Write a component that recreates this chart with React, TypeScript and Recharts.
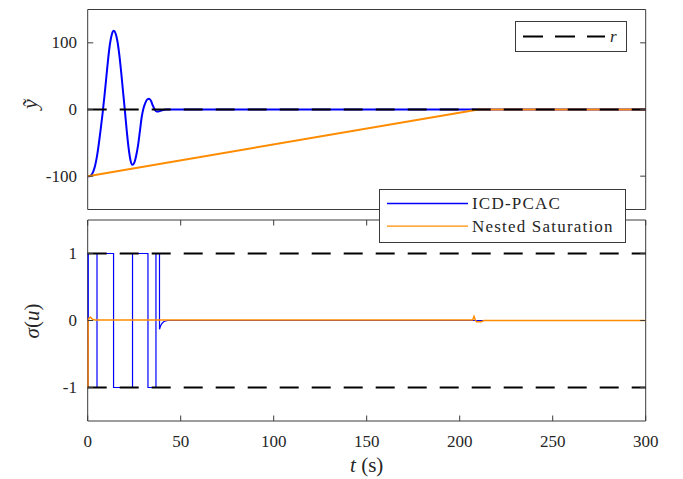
import { LineChart, Line, XAxis, YAxis, ReferenceArea, Legend } from "recharts";

// time axis (s)
const timeTicks = [0, 50, 100, 150, 200, 250, 300];
const yTildeTicks = [-100, 0, 100];
const sigmaTicks = [-1, 0, 1];

// tracking error y~
const icdOutput = [
  [0, -100], [1, -100], [2, -98], [3, -93], [4, -84], [5, -70], [6, -51], [7, -29],
  [8, -6], [9, 20], [10, 48], [11, 76], [12, 99], [13, 113], [14, 118], [15, 114],
  [16, 102], [17, 82], [18, 56], [19, 27], [20, -2], [21, -32], [22, -58], [23, -76],
  [24, -83], [25, -80], [26, -70], [27, -55], [28, -34], [29, -12], [30, 2], [31, 10],
  [32, 15], [33, 16], [34, 13], [35, 6], [36, 0], [37, -3], [38, -3], [39, -2],
  [40, -1], [42, 0], [300, 0],
];
const nestedOutput = [[0, -100], [210, 0], [300, 0]];
const reference = [[0, 0], [300, 0]];

// saturated input sigma(u)
const icdInput = [
  [0, 1], [0.3, 1], [0.3, -1], [5, -1], [5, 1], [13.9, 1], [13.9, -1], [24.1, -1],
  [24.1, 1], [32.4, 1], [32.4, -1], [36.7, -1], [36.7, 1], [38.6, 1], [38.6, -0.13],
  [39.2, -0.08], [40, -0.04], [41, -0.015], [43, 0], [300, 0],
];
const nestedInput = [
  [0, -1], [0.2, -1], [0.25, 0], [0.8, 0.04], [1.5, 0.05], [2.5, 0.02], [4, 0.007],
  [207, 0.007], [207.7, 0.06], [208.5, 0], [209, -0.02], [211.5, -0.02], [213, 0], [300, 0],
];
const upperLimit = [[0, 1], [300, 1]];
const lowerLimit = [[0, -1], [300, -1]];

const FONT = "'Liberation Serif', 'Times New Roman', serif";
const INK = "#262626";
const FRAME = "#3a3a3a";
const BLUE = "#0000ff";
const ORANGE = "#ff8c00";
const LEFT = 87.7;
const RIGHT = 645.7;
const TICK = 5.5;

const seriesColor: Record<string, string> = { "ICD-PCAC": BLUE, "Nested Saturation": ORANGE };

const rows = (pts: number[][]) => pts.map(([t, v]) => ({ t, v }));

function xTick(top: number, bottom: number, labelY: number | null) {
  return (p: any) => (
    <g>
      <line x1={p.x} x2={p.x} y1={bottom} y2={bottom - TICK} stroke={FRAME} />
      <line x1={p.x} x2={p.x} y1={top} y2={top + TICK} stroke={FRAME} />
      {labelY !== null && (
        <text x={p.x} y={labelY} textAnchor="middle" fontFamily={FONT} fontSize={17} fill={INK}>
          {p.payload.value}
        </text>
      )}
    </g>
  );
}

function yTick(p: any) {
  return (
    <g>
      <line x1={LEFT} x2={LEFT + TICK} y1={p.y} y2={p.y} stroke={FRAME} />
      <line x1={RIGHT - TICK} x2={RIGHT} y1={p.y} y2={p.y} stroke={FRAME} />
      <text x={77} y={p.y} dy="0.33em" textAnchor="end" fontFamily={FONT} fontSize={17} fill={INK}>
        {p.payload.value}
      </text>
    </g>
  );
}

function TopPanel() {
  const top = 9.5;
  const bottom = 209.5;
  const h = 215;
  return (
    <LineChart width={683} height={h} margin={{ top, right: 683 - RIGHT, bottom: h - bottom, left: 0 }}>
      <XAxis dataKey="t" type="number" domain={[0, 300]} ticks={timeTicks} interval={0}
        height={0} axisLine={false} tickLine={false} tick={xTick(top, bottom, null)} />
      <YAxis type="number" domain={[-150, 150]} ticks={yTildeTicks} interval={0} width={LEFT}
        axisLine={false} tickLine={false} tick={yTick}
        label={() => (
          <text x={29} y={104} transform="rotate(-90 29 104)" textAnchor="middle" dominantBaseline="central"
            fontFamily={FONT} fontSize={22} fontStyle="italic" fill={INK}>ỹ</text>
        )} />
      <ReferenceArea x1={0} x2={300} y1={-150} y2={150} fill="none" stroke={FRAME} strokeWidth={1} />
      <Line data={rows(icdOutput)} dataKey="v" type="monotone" stroke={BLUE} strokeWidth={2}
        dot={false} activeDot={false} isAnimationActive={false} legendType="none" />
      <Line data={rows(nestedOutput)} dataKey="v" type="linear" stroke={ORANGE} strokeWidth={2}
        dot={false} activeDot={false} isAnimationActive={false} legendType="none" />
      <Line data={rows(reference)} dataKey="v" name="r" type="linear" stroke="#000" strokeWidth={2}
        strokeDasharray="19 13" dot={false} activeDot={false} isAnimationActive={false} />
      <Legend layout="horizontal" verticalAlign="middle" align="center"
        wrapperStyle={{ left: 515, top: 21, width: 112, height: 31 }}
        content={() => (
          <svg width={112} height={31} style={{ display: "block" }}>
            <rect x={0.5} y={0.5} width={111} height={30} fill="#fff" stroke={FRAME} />
            <line x1={8} x2={90} y1={15.5} y2={15.5} stroke="#000" strokeWidth={2} strokeDasharray="20 12" />
            <text x={95} y={20.5} fontFamily={FONT} fontSize={17} fontStyle="italic" fill={INK}>r</text>
          </svg>
        )} />
    </LineChart>
  );
}

function BottomPanel() {
  const top = 10;
  const bottom = 211;
  const h = 269;
  return (
    <LineChart width={683} height={h} margin={{ top, right: 683 - RIGHT, bottom: 0, left: 0 }}>
      <XAxis dataKey="t" type="number" domain={[0, 300]} ticks={timeTicks} interval={0}
        height={h - bottom} axisLine={false} tickLine={false} tick={xTick(top, bottom, 237)}
        label={() => (
          <text x={(LEFT + RIGHT) / 2} y={262} textAnchor="middle" fontFamily={FONT} fontSize={21} fill={INK}>
            <tspan fontStyle="italic">t</tspan> (s)
          </text>
        )} />
      <YAxis type="number" domain={[-1.5, 1.5]} ticks={sigmaTicks} interval={0} width={LEFT}
        axisLine={false} tickLine={false} tick={yTick}
        label={() => (
          <text x={32} y={111} transform="rotate(-90 32 111)" textAnchor="middle" dominantBaseline="central"
            fontFamily={FONT} fontSize={21} fill={INK}>
            <tspan fontStyle="italic">σ</tspan>(<tspan fontStyle="italic">u</tspan>)
          </text>
        )} />
      <ReferenceArea x1={0} x2={300} y1={-1.5} y2={1.5} fill="none" stroke={FRAME} strokeWidth={1} />
      <Line data={rows(icdInput)} dataKey="v" name="ICD-PCAC" type="linear" stroke={BLUE} strokeWidth={1.2}
        dot={false} activeDot={false} isAnimationActive={false} />
      <Line data={rows(nestedInput)} dataKey="v" name="Nested Saturation" type="linear" stroke={ORANGE}
        strokeWidth={1.5} dot={false} activeDot={false} isAnimationActive={false} />
      <Line data={rows(upperLimit)} dataKey="v" type="linear" stroke="#000" strokeWidth={2} strokeDasharray="19 13"
        dot={false} activeDot={false} isAnimationActive={false} legendType="none" />
      <Line data={rows(lowerLimit)} dataKey="v" type="linear" stroke="#000" strokeWidth={2} strokeDasharray="19 13"
        dot={false} activeDot={false} isAnimationActive={false} legendType="none" />
      <Legend layout="horizontal" verticalAlign="middle" align="center"
        wrapperStyle={{ left: 379, top: -21, width: 247, height: 54 }}
        content={(props: any) => (
          <svg width={247} height={54} style={{ display: "block" }}>
            <rect x={0.5} y={0.5} width={246} height={53} fill="#fff" stroke={FRAME} />
            {(props.payload || [])
              .filter((item: any) => item.type !== "none" && seriesColor[item.value])
              .map((item: any, i: number) => (
                <g key={item.value}>
                  <line x1={8} x2={89} y1={14.5 + i * 22.7} y2={14.5 + i * 22.7}
                    stroke={seriesColor[item.value]} strokeWidth={1.3} />
                  <text x={93} y={20 + i * 22.7} fontFamily={FONT} fontSize={17} letterSpacing={1.2} fill={INK}>
                    {item.value}
                  </text>
                </g>
              ))}
          </svg>
        )} />
    </LineChart>
  );
}

export default function App() {
  return (
    <div style={{ position: "absolute", left: 0, top: 0, width: 683, height: 479, background: "#fff" }}>
      <div style={{ position: "absolute", left: 0, top: 0 }}>
        <TopPanel />
      </div>
      <div style={{ position: "absolute", left: 0, top: 210 }}>
        <BottomPanel />
      </div>
    </div>
  );
}
